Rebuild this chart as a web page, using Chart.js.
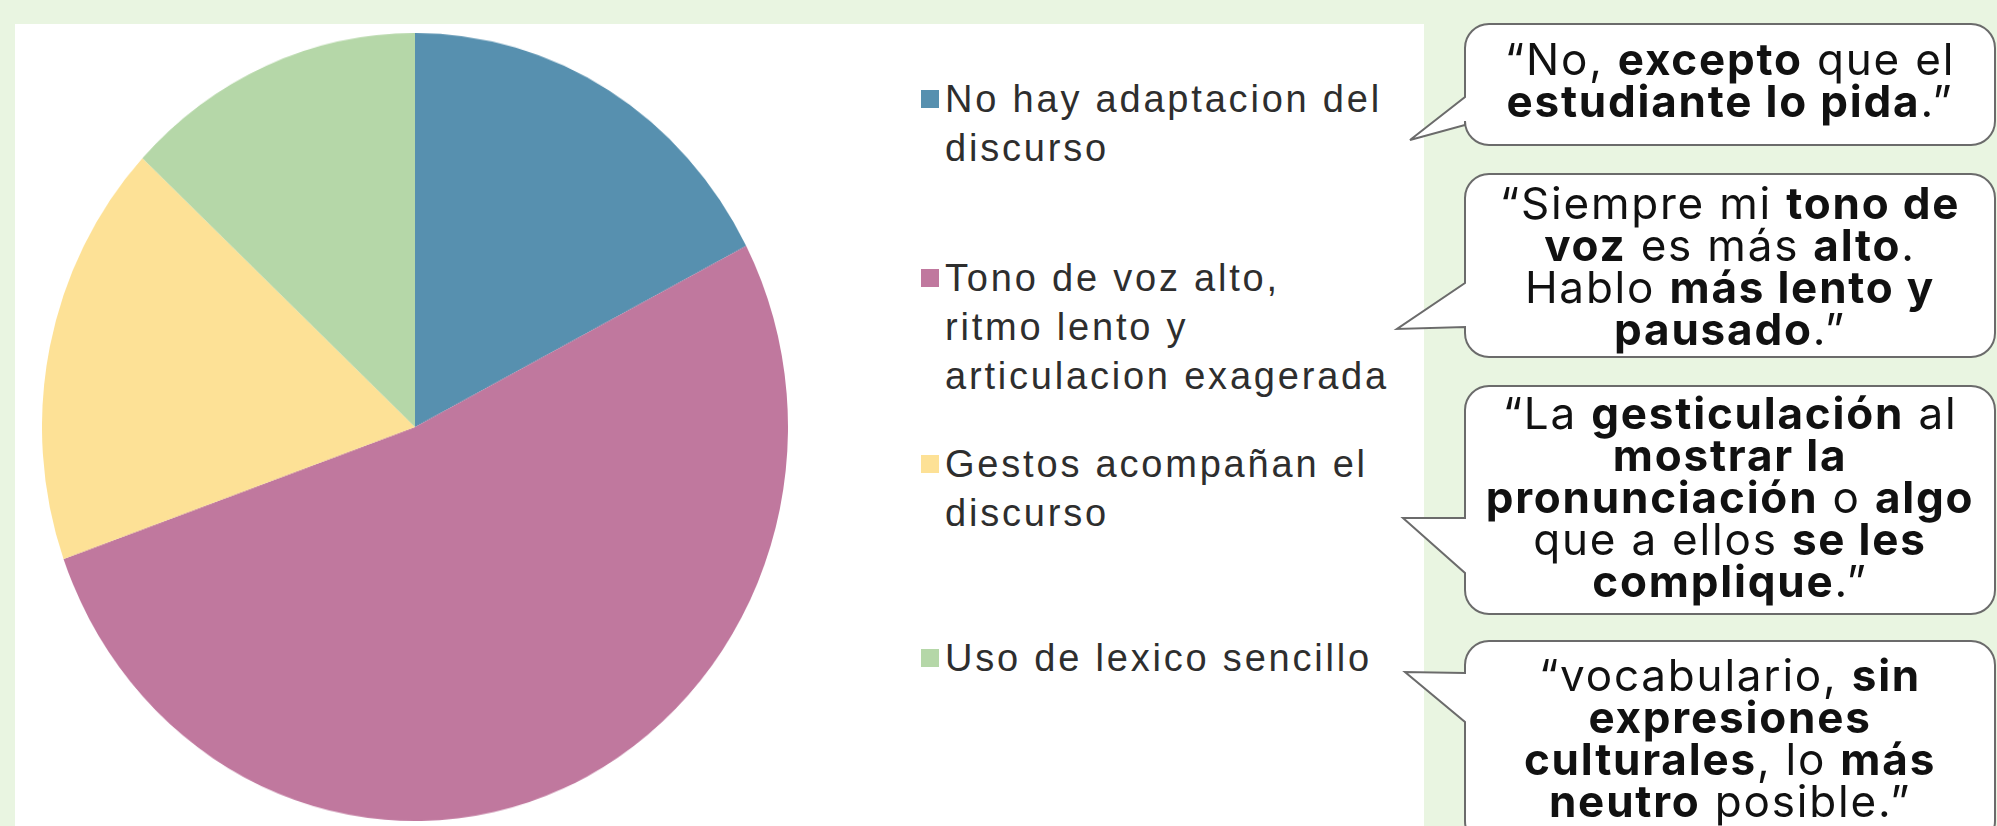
<!DOCTYPE html>
<html>
<head>
<meta charset="utf-8">
<script src="https://cdn.jsdelivr.net/npm/chart.js@4/dist/chart.umd.min.js"></script>
<style>
  html, body { margin: 0; padding: 0; }
  body {
    width: 1997px; height: 826px; overflow: hidden;
    background: #e9f5e1; position: relative;
  }
  #panel { position: absolute; left: 15px; top: 24px; width: 1409px; height: 802px; background: #fff; }
  #pieWrap {
    position: absolute; left: 42px; top: 33px; width: 746px; height: 746px;
    transform: scaleY(1.0563); transform-origin: 0 0;
  }
  .lg-box { position: absolute; width: 18px; height: 18px; }
  .lg-text {
    position: absolute; font-family: "Liberation Sans", Arial, sans-serif;
    font-size: 38px; line-height: 49px; letter-spacing: 2.8px; color: #2e2e2e; white-space: nowrap;
  }
  #bubbles { position: absolute; left: 0; top: 0; }
  .quote {
    position: absolute; left: 1465px; width: 530px; text-align: center;
    font-family: Inter, "Open Sans", sans-serif; font-size: 44px; line-height: 42px;
    letter-spacing: 1.8px; color: #111; white-space: nowrap;
  }
  .quote b { font-weight: 700; }
</style>
</head>
<body>
<div id="panel"></div>
<div id="pieWrap"><canvas id="pie"></canvas></div>
<div id="legend"></div>
<svg id="bubbles" width="1997" height="826"></svg>

<div class="quote" style="top:38px">“No, <b>excepto</b> que el<br><b>estudiante lo pida</b>.”</div>
<div class="quote" style="top:182px">“Siempre mi <b>tono de</b><br><b>voz</b> es más <b>alto</b>.<br>Hablo <b>más lento y</b><br><b>pausado</b>.”</div>
<div class="quote" style="top:392px">“La <b>gesticulación</b> al<br><b>mostrar la</b><br><b>pronunciación</b> o <b>algo</b><br>que a ellos <b>se les</b><br><b>complique</b>.”</div>
<div class="quote" style="top:654px">“vocabulario, <b>sin</b><br><b>expresiones</b><br><b>culturales</b>, lo <b>más</b><br><b>neutro</b> posible.”</div>

<script>
// chart data
const labels = [
  ['No hay adaptacion del', 'discurso'],
  ['Tono de voz alto,', 'ritmo lento y', 'articulacion exagerada'],
  ['Gestos acompañan el', 'discurso'],
  ['Uso de lexico sencillo']
];
const counts = [4, 12, 4, 3];
const colors = ['#5790af', '#c0789e', '#fde196', '#b5d7a8'];

// legend layout (centre of first line of each entry)
const legendY = [99, 278, 464, 658];

new Chart(document.getElementById('pie'), {
  type: 'pie',
  data: {
    labels,
    datasets: [{
      data: counts,
      backgroundColor: colors,
      borderWidth: 0
    }]
  },
  options: {
    responsive: true,
    maintainAspectRatio: false,
    animation: false,
    layout: { padding: 0 },
    plugins: {
      legend: { display: false },
      tooltip: { enabled: false }
    }
  }
});

// legend, built from the same arrays
const legend = document.getElementById('legend');
labels.forEach((lines, i) => {
  const box = document.createElement('div');
  box.className = 'lg-box';
  box.style.left = '921px';
  box.style.top = (legendY[i] - 9) + 'px';
  box.style.background = colors[i];
  legend.appendChild(box);

  const txt = document.createElement('div');
  txt.className = 'lg-text';
  txt.style.left = '945px';
  txt.style.top = (legendY[i] - 24.5) + 'px';
  txt.innerHTML = lines.join('<br>');
  legend.appendChild(txt);
});

// speech bubbles: box edges, tail base on left edge, tail tip
const bubbles = [
  {t: 24, b: 145, y1: 97, y2: 125, tx: 1410, ty: 140},
  {t: 174, b: 357, y1: 283, y2: 327, tx: 1397, ty: 329},
  {t: 386, b: 614, y1: 518, y2: 573, tx: 1403, ty: 518},
  {t: 641, b: 845, y1: 673, y2: 722, tx: 1405, ty: 672}
];
const L = 1465, R = 1995, r = 24;
const svg = document.getElementById('bubbles');
bubbles.forEach(p => {
  const d = `M${L + r},${p.t} H${R - r} A${r},${r} 0 0 1 ${R},${p.t + r} V${p.b - r} ` +
    `A${r},${r} 0 0 1 ${R - r},${p.b} H${L + r} A${r},${r} 0 0 1 ${L},${p.b - r} ` +
    `V${p.y2} L${p.tx},${p.ty} L${L},${p.y1} V${p.t + r} A${r},${r} 0 0 1 ${L + r},${p.t} Z`;
  const path = document.createElementNS('http://www.w3.org/2000/svg', 'path');
  path.setAttribute('d', d);
  path.setAttribute('fill', '#fff');
  path.setAttribute('stroke', '#6b6b6b');
  path.setAttribute('stroke-width', '2');
  svg.appendChild(path);
});
</script>
</body>
</html>
